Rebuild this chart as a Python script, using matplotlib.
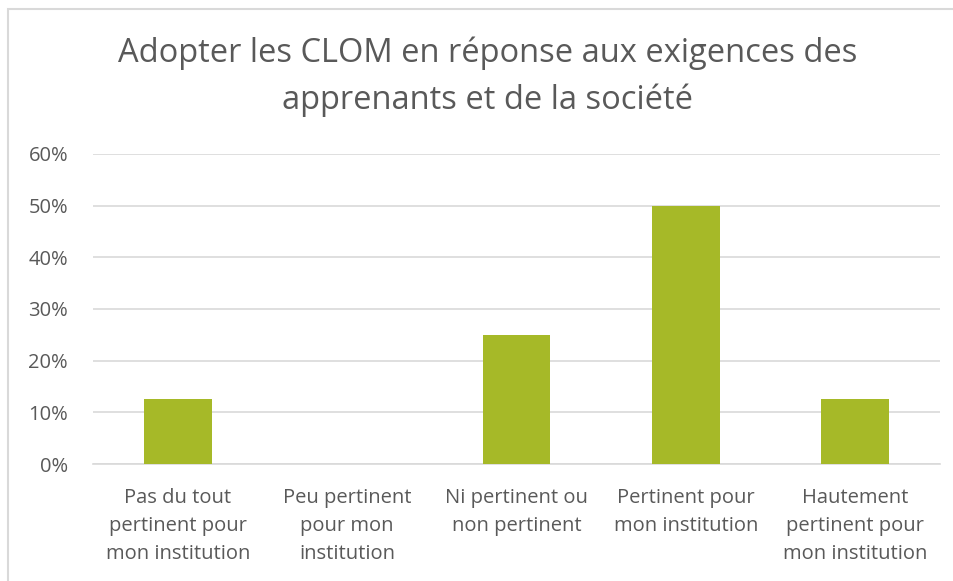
import matplotlib.pyplot as plt
from matplotlib.patches import Rectangle
from matplotlib.ticker import PercentFormatter

categories = [
    "Pas du tout\npertinent pour\nmon institution",
    "Peu pertinent\npour mon\ninstitution",
    "Ni pertinent ou\nnon pertinent",
    "Pertinent pour\nmon institution",
    "Hautement\npertinent pour\nmon institution",
]
values = [0.125, 0.0, 0.25, 0.50, 0.125]
yticks = [0, 0.1, 0.2, 0.3, 0.4, 0.5, 0.6]

title = "Adopter les CLOM en réponse aux exigences des\napprenants et de la société"

plt.rcParams["font.family"] = ["Open Sans", "DejaVu Sans"]
text_col = "#595959"
grid_col = "#D9D9D9"

fig = plt.figure(figsize=(9.54, 5.81), dpi=100)
ax = fig.add_axes([93 / 954, 1 - 464 / 581, 847 / 954, 310 / 581])

x = range(len(categories))
ax.bar(x, values, width=0.4, color="#A6B928", zorder=3)

ax.set_xlim(-0.5, len(categories) - 0.5)
ax.set_ylim(0, 0.6)
ax.set_yticks(yticks)
ax.yaxis.set_major_formatter(PercentFormatter(1.0, decimals=0))
ax.set_xticks(list(x))
ax.set_xticklabels(categories, fontsize=14.5, color=text_col, linespacing=1.55)
ax.tick_params(axis="y", labelsize=14.5, labelcolor=text_col, length=0, pad=18)
ax.tick_params(axis="x", length=0, pad=17)

ax.grid(axis="y", color=grid_col, linewidth=1.2, zorder=0)
for s in ["top", "right", "left"]:
    ax.spines[s].set_visible(False)
ax.spines["bottom"].set_color(grid_col)
ax.spines["bottom"].set_linewidth(1.2)

fig.text(488 / 954, 1 - 37 / 581, title, ha="center", va="top", fontsize=23.5,
         color=text_col, linespacing=1.5)

# light outer chart frame
fig.patches.append(Rectangle((8.5 / 954, -0.1), 1.2, 1 - 8.5 / 581 + 0.1,
                             transform=fig.transFigure, fill=False,
                             edgecolor=grid_col, linewidth=1.5))

fig.savefig("out.png", dpi=100)
